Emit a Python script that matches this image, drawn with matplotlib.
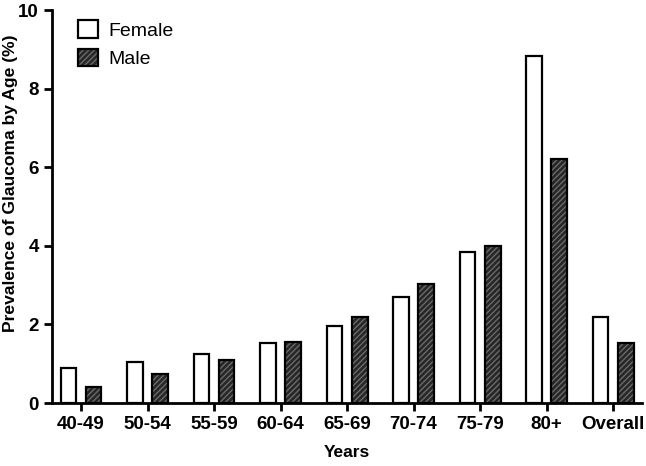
import numpy as np
import matplotlib
matplotlib.use("Agg")
import matplotlib.pyplot as plt
from matplotlib.patches import Patch

plt.rcParams['font.family'] = ['Liberation Sans', 'DejaVu Sans']

# ── data ─────────────────────────────────────────────────────────────
groups = ['40-49', '50-54', '55-59', '60-64', '65-69', '70-74', '75-79', '80+', 'Overall']
female = [0.90, 1.05, 1.25, 1.52, 1.96, 2.71, 3.85, 8.83, 2.18]
male   = [0.40, 0.74, 1.10, 1.56, 2.20, 3.02, 4.00, 6.20, 1.53]

BAR_W  = 0.235
OFFSET = 0.19
HATCH_FACE = '#262626'
HATCH_LINE = '#6a6a6a'

fig = plt.figure(figsize=(6.46, 4.66), dpi=100)
ax = fig.add_axes([0.0805, 0.135, 0.9135, 0.8435])

x = np.arange(len(groups))

# female: open bars
ax.bar(x - OFFSET, female, BAR_W, color='white', edgecolor='black', lw=1.6, zorder=3)

# male: dark hatched bars (hatch layer + black outline)
ax.bar(x + OFFSET, male, BAR_W, color=HATCH_FACE, edgecolor=HATCH_LINE,
       hatch='//////', lw=0, zorder=3)
ax.bar(x + OFFSET, male, BAR_W, color='none', edgecolor='black', lw=1.6, zorder=4)

ax.set_xlim(-0.436, len(groups) - 1 + 0.436)
ax.set_ylim(0, 10)
ax.set_yticks([0, 2, 4, 6, 8, 10])
ax.set_xticks(x)
ax.set_xticklabels(groups)

for s in ('top', 'right'):
    ax.spines[s].set_visible(False)
for s in ('left', 'bottom'):
    ax.spines[s].set_linewidth(2)

ax.tick_params(axis='both', direction='out', length=6, width=2, labelsize=13.5)
for lab in ax.get_xticklabels() + ax.get_yticklabels():
    lab.set_fontweight('bold')

ax.set_ylabel('Prevalence of Glaucoma by Age (%)', fontsize=12.6, fontweight='bold')
ax.yaxis.set_label_coords(-0.057, 0.56)
ax.set_xlabel('Years', fontsize=12.5, fontweight='bold')
ax.xaxis.set_label_coords(0.5, -0.107)

# legend
h_f = Patch(facecolor='white', edgecolor='black', lw=1.6)
h_m = (Patch(facecolor=HATCH_FACE, edgecolor=HATCH_LINE, hatch='//////', lw=0),
       Patch(facecolor='none', edgecolor='black', lw=1.6))
ax.legend([h_f, h_m], ['Female', 'Male'], loc='upper left', bbox_to_anchor=(0.015, 1.018),
          frameon=False, fontsize=14, handlelength=1.0, handleheight=1.0,
          handletextpad=0.55, labelspacing=0.45)

fig.savefig('out.png', dpi=100)
